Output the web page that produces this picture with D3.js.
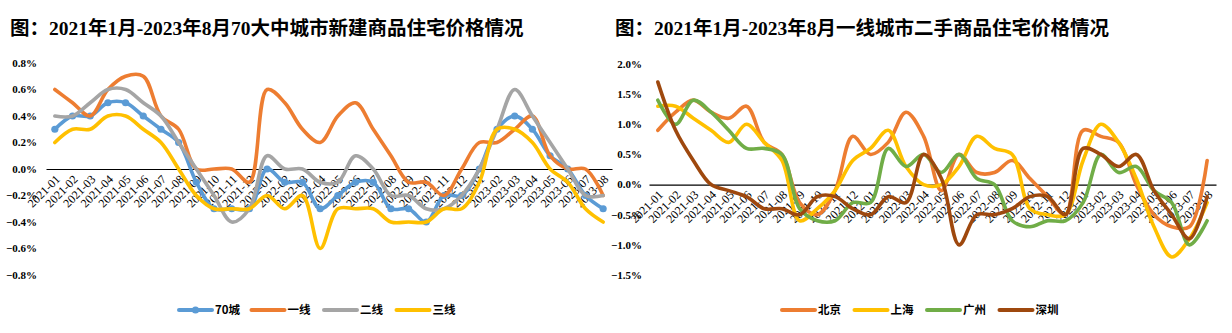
<!DOCTYPE html>
<html>
<head>
<meta charset="utf-8">
<script src="https://cdn.jsdelivr.net/npm/d3@7"></script>
<style>
  body { margin: 0; background: #fff; }
  svg { display: block; }
</style>
</head>
<body>
<svg id="chart" width="1232" height="333"></svg>
<script>
// Month labels shared by both panels
const months = [
  "2021-01","2021-02","2021-03","2021-04","2021-05","2021-06","2021-07","2021-08",
  "2021-09","2021-10","2021-11","2021-12","2022-01","2022-02","2022-03","2022-04",
  "2022-05","2022-06","2022-07","2022-08","2022-09","2022-10","2022-11","2022-12",
  "2023-01","2023-02","2023-03","2023-04","2023-05","2023-06","2023-07","2023-08"
];

// Left panel: new home prices, month-on-month change (%)
const city70 = [0.3,0.4,0.4,0.5,0.5,0.4,0.3,0.2,-0.1,-0.3,-0.3,-0.3,0.0,-0.1,-0.1,-0.3,-0.2,-0.1,-0.1,-0.3,-0.3,-0.4,-0.2,-0.2,0.0,0.3,0.4,0.3,0.1,0.0,-0.2,-0.3];
const tier1  = [0.6,0.5,0.4,0.6,0.7,0.7,0.4,0.3,0.0,0.0,0.0,-0.1,0.6,0.5,0.3,0.2,0.4,0.5,0.3,0.1,-0.1,-0.1,-0.2,0.0,0.2,0.2,0.3,0.4,0.1,0.0,0.0,-0.2];
const tier2  = [0.4,0.4,0.5,0.6,0.6,0.5,0.4,0.2,0.0,-0.2,-0.4,-0.3,0.1,0.0,0.0,-0.1,-0.1,0.1,0.0,-0.2,-0.2,-0.3,-0.3,-0.2,0.0,0.3,0.6,0.4,0.2,0.0,-0.2,-0.2];
const tier3  = [0.2,0.3,0.3,0.4,0.4,0.3,0.2,0.0,-0.2,-0.3,-0.3,-0.3,-0.2,-0.3,-0.2,-0.6,-0.3,-0.3,-0.3,-0.4,-0.4,-0.4,-0.3,-0.3,-0.1,0.3,0.3,0.2,0.0,-0.1,-0.3,-0.4];
const leftTicks = [-0.8,-0.6,-0.4,-0.2,0.0,0.2,0.4,0.6,0.8];

// Right panel: second-hand home prices in tier-1 cities, month-on-month change (%)
const beijing   = [0.9,1.2,1.4,1.2,1.1,1.3,0.7,0.5,-0.3,-0.5,-0.1,0.8,0.5,0.7,1.2,0.8,-0.1,0.5,0.2,0.2,0.4,0.1,-0.2,-0.5,0.9,0.8,0.7,0.0,-0.5,-0.7,-0.7,0.4];
const shanghai  = [1.3,1.3,1.1,0.9,0.7,1.0,0.7,0.4,-0.6,-0.4,-0.1,0.4,0.6,0.9,0.3,0.0,0.0,0.3,0.8,0.6,0.5,-0.4,-0.5,-0.5,0.4,1.0,0.7,0.1,-0.7,-1.2,-0.9,-0.3];
const guangzhou = [1.4,1.0,1.4,1.2,0.9,0.6,0.6,0.5,-0.4,-0.6,-0.6,-0.3,-0.3,0.6,0.3,0.5,0.2,0.5,0.1,0.0,-0.6,-0.7,-0.6,-0.6,-0.3,0.5,0.2,0.3,-0.1,-0.3,-1.0,-0.6];
const shenzhen  = [1.7,0.9,0.4,0.0,-0.1,-0.2,-0.4,-0.4,-0.5,-0.2,-0.2,-0.4,-0.5,-0.2,-0.3,0.5,0.1,-1.0,-0.5,-0.5,-0.4,-0.2,-0.2,-0.5,0.6,0.5,0.3,0.5,-0.1,-0.5,-0.9,-0.2];
const rightTicks = [-1.5,-1.0,-0.5,0.0,0.5,1.0,1.5,2.0];

const panels = [
  {
    title: "图：2021年1月-2023年8月70大中城市新建商品住宅价格情况",
    titleX: 10,
    xRange: [46, 612],
    yDomain: [-0.8, 0.8],
    yRange: [275, 63],
    ticks: leftTicks,
    labelRight: 37,
    legendX: 178,
    series: [
      { name: "70城", values: city70, color: "#5B9BD5", marker: true },
      { name: "一线", values: tier1,  color: "#ED7D31" },
      { name: "二线", values: tier2,  color: "#A5A5A5" },
      { name: "三线", values: tier3,  color: "#FFC000" }
    ]
  },
  {
    title: "图：2021年1月-2023年8月一线城市二手商品住宅价格情况",
    titleX: 615,
    xRange: [649, 1216],
    yDomain: [-1.5, 2.0],
    yRange: [275, 64],
    ticks: rightTicks,
    labelRight: 642,
    legendX: 781,
    series: [
      { name: "北京", values: beijing,   color: "#ED7D31" },
      { name: "上海", values: shanghai,  color: "#FFC000" },
      { name: "广州", values: guangzhou, color: "#70AD47" },
      { name: "深圳", values: shenzhen,  color: "#9E480E" }
    ]
  }
];

const svg = d3.select("#chart");
const fmt = d3.format(".1f");
const serif = "'Liberation Serif', 'Noto Sans CJK SC', serif";

panels.forEach(p => {
  const x = d3.scaleBand().domain(months).range(p.xRange);
  const y = d3.scaleLinear().domain(p.yDomain).range(p.yRange);
  const cx = d => x(d) + x.bandwidth() / 2;

  const g = svg.append("g");

  // title
  g.append("text")
    .attr("x", p.titleX).attr("y", 35)
    .attr("font-family", serif)
    .attr("font-size", 19.5).attr("font-weight", "bold")
    .attr("fill", "#000")
    .text(p.title);

  // value labels
  g.selectAll("text.ylab").data(p.ticks).join("text")
    .attr("class", "ylab")
    .attr("x", p.labelRight).attr("y", d => y(d))
    .attr("dy", "0.35em")
    .attr("text-anchor", "end")
    .attr("font-family", serif)
    .attr("font-size", 11).attr("font-weight", "bold")
    .attr("fill", "#000")
    .text(d => fmt(d) + "%");

  // category axis along zero
  const axis = d3.axisBottom(x).tickSize(0).tickPadding(0);
  const ag = g.append("g").attr("transform", `translate(0,${y(0)})`).call(axis);
  ag.select(".domain").attr("stroke", "#000").attr("stroke-width", 1.2);
  ag.selectAll(".tick text")
    .attr("font-family", serif)
    .attr("font-size", 12)
    .attr("fill", "#000")
    .attr("text-anchor", "end")
    .attr("dy", 0)
    .attr("y", 0)
    .attr("transform", "translate(6,11) rotate(-45)");

  // lines
  const line = d3.line()
    .x((d, i) => cx(months[i]))
    .y(d => y(d))
    .curve(d3.curveCatmullRom.alpha(0.5));

  p.series.forEach(s => {
    g.append("path")
      .attr("d", line(s.values))
      .attr("fill", "none")
      .attr("stroke", s.color)
      .attr("stroke-width", 3.6)
      .attr("stroke-linejoin", "round")
      .attr("stroke-linecap", "round");
    if (s.marker) {
      g.selectAll(null).data(s.values).join("circle")
        .attr("cx", (d, i) => cx(months[i]))
        .attr("cy", d => y(d))
        .attr("r", 3.6)
        .attr("fill", s.color);
    }
  });

  // legend
  const lg = g.append("g").attr("transform", `translate(${p.legendX},310)`);
  p.series.forEach((s, i) => {
    const it = lg.append("g").attr("transform", `translate(${i * 72.5},0)`);
    it.append("line")
      .attr("x1", 1).attr("x2", 34).attr("y1", 0).attr("y2", 0)
      .attr("stroke", s.color).attr("stroke-width", 4)
      .attr("stroke-linecap", "round");
    if (s.marker) {
      it.append("circle").attr("cx", 17.5).attr("cy", 0).attr("r", 3.6).attr("fill", s.color);
    }
    it.append("text")
      .attr("x", 37).attr("y", 0).attr("dy", "0.36em")
      .attr("font-family", "'Noto Sans CJK SC', sans-serif")
      .attr("font-size", 11.5).attr("font-weight", "bold")
      .attr("fill", "#000")
      .text(s.name);
  });
});
</script>
</body>
</html>
